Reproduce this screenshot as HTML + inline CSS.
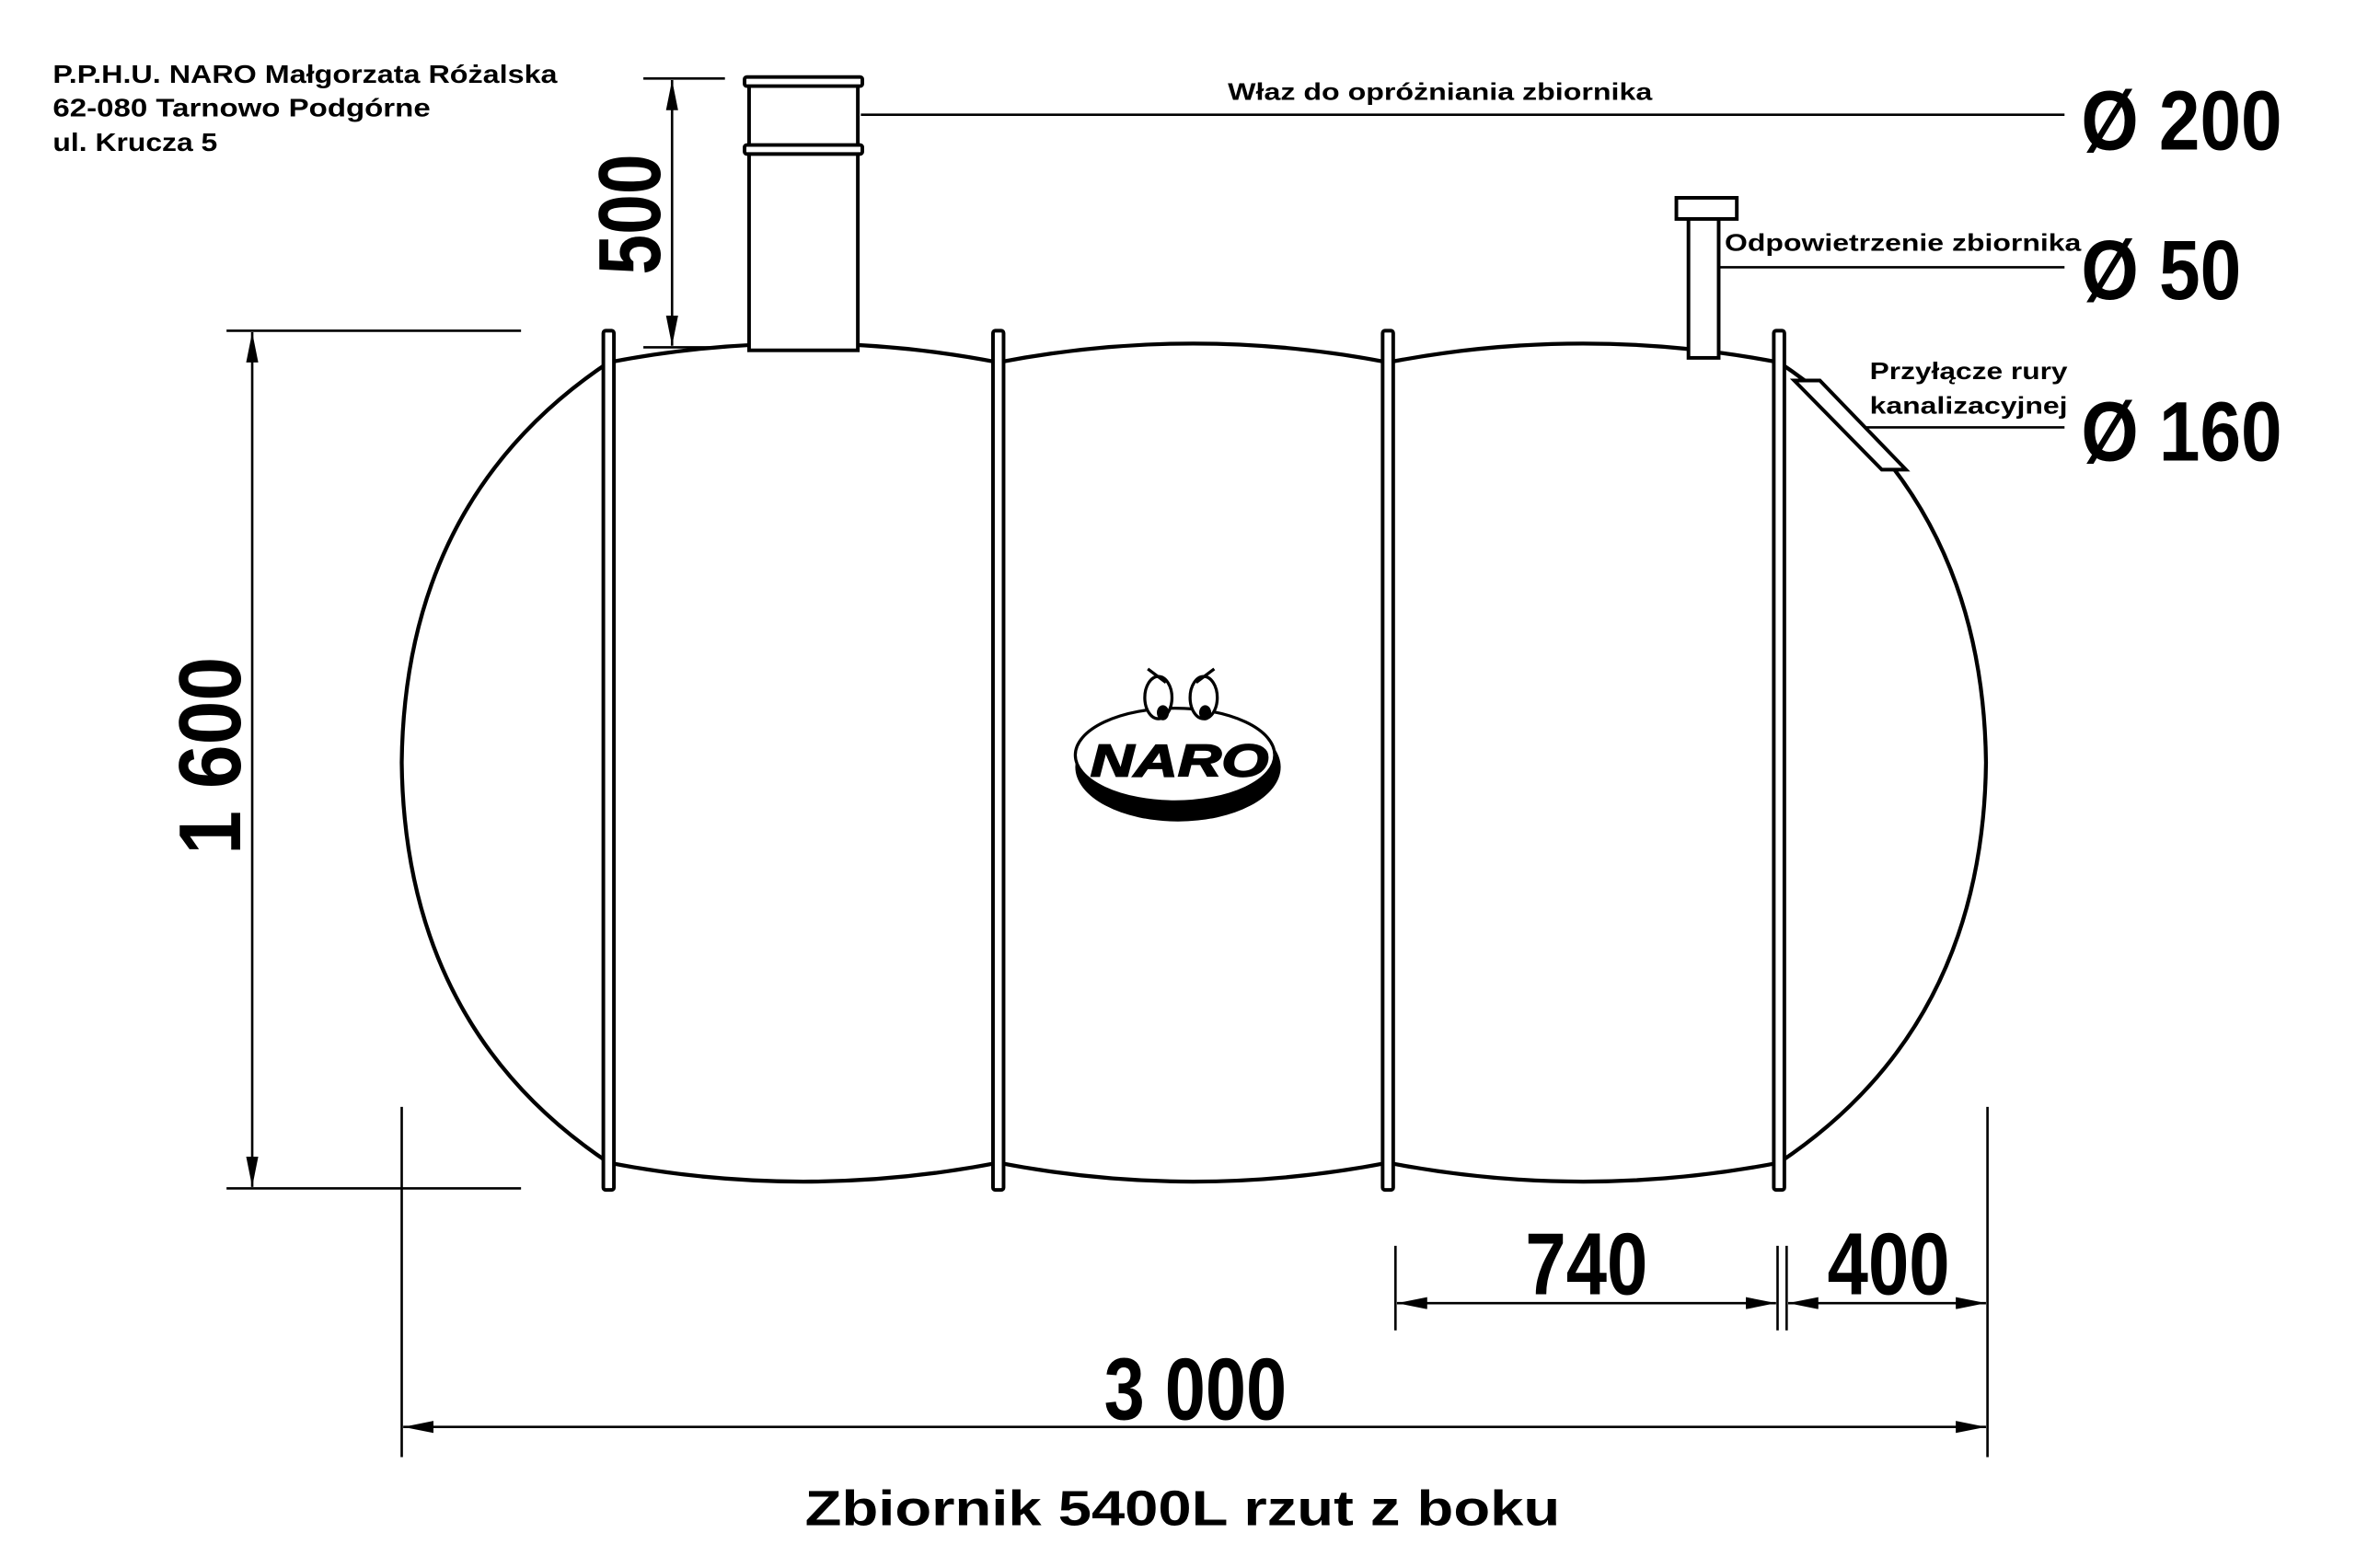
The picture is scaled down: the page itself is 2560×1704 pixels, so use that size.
<!DOCTYPE html>
<html><head><meta charset="utf-8"><style>
html,body{margin:0;padding:0;background:#fff;}
svg{display:block;}
text{font-family:"Liberation Sans",sans-serif;font-weight:bold;fill:#000;}
</style></head><body>
<svg width="2560" height="1704" viewBox="0 0 1560 1038.4" preserveAspectRatio="none" xmlns="http://www.w3.org/2000/svg">
<defs>
<marker id="a" viewBox="0 0 20 8" refX="20" refY="4" markerWidth="20" markerHeight="8" markerUnits="userSpaceOnUse" orient="auto-start-reverse"><path d="M0,0 L20,4 L0,8 Z" fill="#000"/></marker>
</defs>
<!-- header text -->
<text x="35" y="55" font-size="17" textLength="334" lengthAdjust="spacingAndGlyphs">P.P.H.U. NARO Małgorzata Różalska</text>
<text x="35" y="77" font-size="17" textLength="250" lengthAdjust="spacingAndGlyphs">62-080 Tarnowo Podgórne</text>
<text x="35" y="100" font-size="17" textLength="109" lengthAdjust="spacingAndGlyphs">ul. Krucza 5</text>

<g fill="none" stroke="#000" stroke-width="2.6">
<!-- tank body -->
<path d="M403,240 Q268,330 266,505 Q268,680 403,770"/>
<path d="M403,240 Q532,215 661,240"/>
<path d="M661,240 Q790,215 919,240"/>
<path d="M919,240 Q1048,215 1178,240"/>
<path d="M403,770 Q532,795 661,770"/>
<path d="M661,770 Q790,795 919,770"/>
<path d="M919,770 Q1048,795 1178,770"/>
<path d="M1178,240 Q1313,330 1315,505 Q1313,680 1178,770"/>
</g>
<!-- bands -->
<g fill="#fff" stroke="#000" stroke-width="2.4">
<rect x="399.5" y="219" width="7" height="569" rx="1.5"/>
<rect x="657.5" y="219" width="7" height="569" rx="1.5"/>
<rect x="915.5" y="219" width="7" height="569" rx="1.5"/>
<rect x="1174.5" y="219" width="7" height="569" rx="1.5"/>
<!-- manhole -->
<rect x="496" y="52" width="72" height="180"/>
<rect x="493" y="51" width="78" height="6" rx="1.5"/>
<rect x="493" y="96" width="78" height="6" rx="1.5"/>
<!-- vent -->
<rect x="1118" y="144" width="20" height="93"/>
<rect x="1110" y="131" width="40" height="14"/>
<!-- connector -->
<path d="M1188,252 L1205,252 L1262,311 L1246,311 Z"/>
</g>

<g stroke="#000" stroke-width="1.6" fill="none">
<!-- leaders -->
<line x1="570" y1="76" x2="1367" y2="76"/>
<line x1="1138" y1="177" x2="1367" y2="177"/>
<line x1="1235" y1="283" x2="1367" y2="283"/>
<!-- 500 dim -->
<line x1="426" y1="52" x2="480" y2="52"/>
<line x1="426" y1="230" x2="480" y2="230"/>
<line x1="445" y1="53" x2="445" y2="229" marker-start="url(#a)" marker-end="url(#a)"/>
<!-- 1600 dim -->
<line x1="150" y1="219" x2="345" y2="219"/>
<line x1="150" y1="787" x2="345" y2="787"/>
<line x1="167" y1="220" x2="167" y2="786" marker-start="url(#a)" marker-end="url(#a)"/>
<!-- bottom extension lines -->
<line x1="266" y1="733" x2="266" y2="965"/>
<line x1="1316" y1="733" x2="1316" y2="965"/>
<line x1="924" y1="825" x2="924" y2="881"/>
<line x1="1177" y1="825" x2="1177" y2="881"/>
<line x1="1183" y1="825" x2="1183" y2="881"/>
<line x1="267" y1="945" x2="1315" y2="945" marker-start="url(#a)" marker-end="url(#a)"/>
<line x1="925" y1="863" x2="1176" y2="863" marker-start="url(#a)" marker-end="url(#a)"/>
<line x1="1184" y1="863" x2="1315" y2="863" marker-start="url(#a)" marker-end="url(#a)"/>
</g>

<!-- labels -->
<text x="813" y="66" font-size="16" textLength="281" lengthAdjust="spacingAndGlyphs">Właz do opróżniania zbiornika</text>
<text x="1142" y="166" font-size="16" textLength="236" lengthAdjust="spacingAndGlyphs">Odpowietrzenie zbiornika</text>
<text x="1238" y="251" font-size="16" textLength="131" lengthAdjust="spacingAndGlyphs">Przyłącze rury</text>
<text x="1238" y="274" font-size="16" textLength="131" lengthAdjust="spacingAndGlyphs">kanalizacyjnej</text>
<text x="1378" y="99" font-size="56" textLength="133" lengthAdjust="spacingAndGlyphs">Ø 200</text>
<text x="1378" y="198" font-size="56" textLength="106" lengthAdjust="spacingAndGlyphs">Ø 50</text>
<text x="1378" y="305" font-size="56" textLength="133" lengthAdjust="spacingAndGlyphs">Ø 160</text>
<text transform="translate(437,182) rotate(-90)" font-size="58" textLength="80" lengthAdjust="spacingAndGlyphs">500</text>
<text transform="translate(159,566) rotate(-90)" font-size="58" textLength="131" lengthAdjust="spacingAndGlyphs">1 600</text>
<text x="731" y="940" font-size="58" textLength="121" lengthAdjust="spacingAndGlyphs">3 000</text>
<text x="1010" y="857" font-size="58" textLength="81" lengthAdjust="spacingAndGlyphs">740</text>
<text x="1210" y="857" font-size="58" textLength="81" lengthAdjust="spacingAndGlyphs">400</text>
<text x="533" y="1010" font-size="33" textLength="500" lengthAdjust="spacingAndGlyphs">Zbiornik 5400L rzut z boku</text>

<!-- logo -->
<g>
<ellipse cx="780" cy="508" rx="68" ry="36" fill="#000"/>
<ellipse cx="778" cy="500" rx="66" ry="31" fill="#fff" stroke="#000" stroke-width="2"/>
<ellipse cx="767" cy="462" rx="9" ry="14" fill="#fff" stroke="#000" stroke-width="2"/>
<ellipse cx="797" cy="462" rx="9" ry="14" fill="#fff" stroke="#000" stroke-width="2"/>
<ellipse cx="770" cy="472" rx="4" ry="5" fill="#000"/>
<ellipse cx="798" cy="472" rx="4" ry="5" fill="#000"/>
<path d="M760,443 L772,452 M804,443 L792,452" stroke="#000" stroke-width="2"/>
<text x="722" y="514" font-size="30" font-style="italic" textLength="118" lengthAdjust="spacingAndGlyphs" stroke="#000" stroke-width="1">NARO</text>
</g>
</svg>
</body></html>
